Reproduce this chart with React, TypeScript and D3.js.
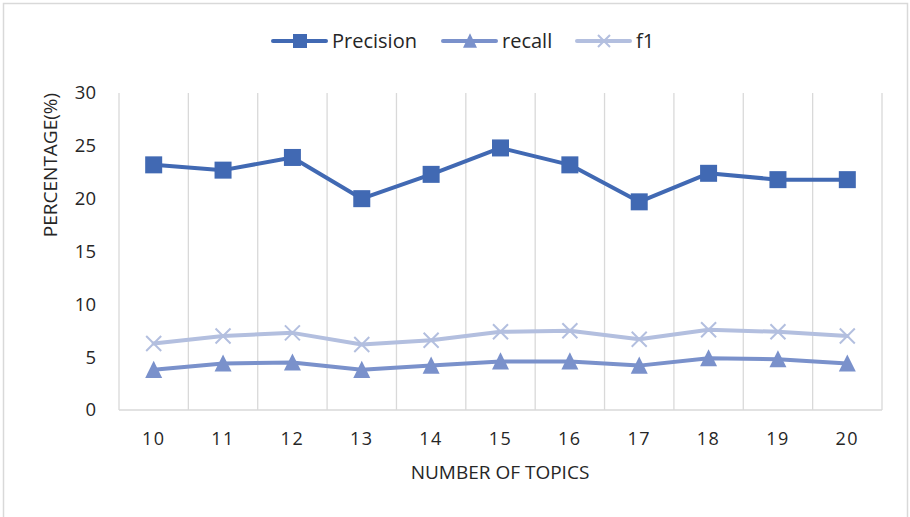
import React from "react";
import * as d3 from "d3";

const categories = ["10", "11", "12", "13", "14", "15", "16", "17", "18", "19", "20"];
const precision = [23.2, 22.7, 23.9, 20.0, 22.3, 24.8, 23.2, 19.7, 22.4, 21.8, 21.8];
const recall = [3.8, 4.4, 4.5, 3.8, 4.2, 4.6, 4.6, 4.2, 4.9, 4.8, 4.4];
const f1 = [6.3, 7.0, 7.3, 6.2, 6.6, 7.4, 7.5, 6.7, 7.6, 7.4, 7.0];
const yTicks = [0, 5, 10, 15, 20, 25, 30];

const W = 910;
const H = 517;
const left = 119;
const right = 882;
const top = 93;
const bottom = 410;
const FONT = "'Open Sans', 'Noto Sans', sans-serif";

const cPrec = "#4169B3";
const cRec = "#7A91CB";
const cF1 = "#B3BFDF";

function Marker({ type, x, y, color, size }: { type: string; x: number; y: number; color: string; size: number }) {
  if (type === "square") {
    return <rect x={x - size / 2} y={y - size / 2} width={size} height={size} fill={color} />;
  }
  if (type === "triangle") {
    const h = size * 0.95;
    return (
      <path
        d={`M${x},${y - h / 2 - 1} L${x + size / 2},${y + h / 2} L${x - size / 2},${y + h / 2} Z`}
        fill={color}
      />
    );
  }
  const s = size / 2;
  return (
    <path d={`M${x - s},${y - s} L${x + s},${y + s} M${x - s},${y + s} L${x + s},${y - s}`} stroke={color} strokeWidth={2} fill="none" />
  );
}

export default function App() {
  const x = d3.scaleBand().domain(categories).range([left, right]);
  const y = d3.scaleLinear().domain([0, 30]).range([bottom, top]);
  const cx = (c: string) => (x(c) as number) + x.bandwidth() / 2;
  const line = d3
    .line<number>()
    .x((_, i) => cx(categories[i]))
    .y((d) => y(d));

  const series = [
    { name: "f1", data: f1, color: cF1, marker: "x", size: 15 },
    { name: "recall", data: recall, color: cRec, marker: "triangle", size: 17 },
    { name: "Precision", data: precision, color: cPrec, marker: "square", size: 17 },
  ];

  const gridXs = categories.map((c) => x(c) as number).concat([right]);

  const legend = [
    { name: "Precision", color: cPrec, marker: "square", x0: 273, size: 14 },
    { name: "recall", color: cRec, marker: "triangle", x0: 443, size: 14 },
    { name: "f1", color: cF1, marker: "x", x0: 577, size: 12 },
  ];

  return (
    <svg width={W} height={H} style={{ display: "block", position: "absolute", left: 0, top: 0 }} fontFamily={FONT}>
      <rect x={0} y={0} width={W} height={H} fill="#fff" />
      <rect x={3.5} y={3.5} width={904} height={530} fill="none" stroke="#d9d9d9" strokeWidth={1.5} />
      {gridXs.map((gx, i) => (
        <line key={i} x1={gx} x2={gx} y1={top} y2={bottom} stroke="#d9d9d9" strokeWidth={1.3} />
      ))}
      <line x1={left} x2={right} y1={bottom} y2={bottom} stroke="#d9d9d9" strokeWidth={1.3} />
      {yTicks.map((t) => (
        <text key={t} x={96} y={y(t)} dy="0.35em" textAnchor="end" fontSize={18.5} fill="#262626">
          {t}
        </text>
      ))}
      {categories.map((c) => (
        <text key={c} x={cx(c)} y={439} dy="0.35em" textAnchor="middle" fontSize={18} fill="#262626" letterSpacing={1.5}>
          {c}
        </text>
      ))}
      <text x={500} y={472} dy="0.35em" textAnchor="middle" fontSize={19} fill="#262626">
        NUMBER OF TOPICS
      </text>
      <text transform="translate(50,165) rotate(-90)" dy="0.35em" textAnchor="middle" fontSize={19} fill="#262626">
        PERCENTAGE(%)
      </text>
      {series.map((s) => (
        <g key={s.name}>
          <path d={line(s.data) || ""} fill="none" stroke={s.color} strokeWidth={4} strokeLinejoin="round" strokeLinecap="round" />
          {s.data.map((v, i) => (
            <Marker key={i} type={s.marker} x={cx(categories[i])} y={y(v)} color={s.color} size={s.size} />
          ))}
        </g>
      ))}
      {legend.map((l) => (
        <g key={l.name}>
          <line x1={l.x0} x2={l.x0 + 53} y1={41} y2={41} stroke={l.color} strokeWidth={4} strokeLinecap="round" />
          <Marker type={l.marker} x={l.x0 + 27} y={41} color={l.color} size={l.size} />
          <text x={l.x0 + 59} y={41} dy="0.35em" fontSize={20} fill="#262626">
            {l.name}
          </text>
        </g>
      ))}
    </svg>
  );
}
